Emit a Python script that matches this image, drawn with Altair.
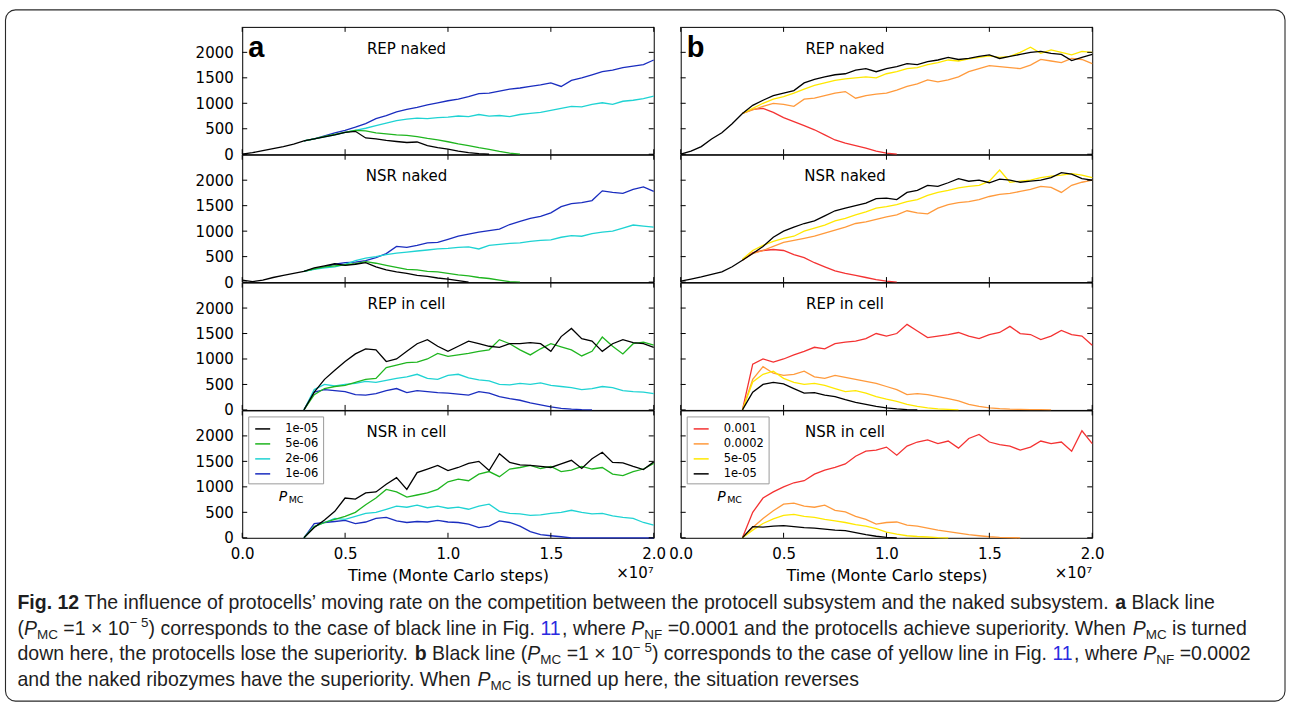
import altair as alt
import pandas as pd

STEP = 0.05
X_TICKS = [0.0, 0.5, 1.0, 1.5, 2.0]
Y_TICKS = [0, 500, 1000, 1500, 2000]
TITLES = ["REP naked", "NSR naked", "REP in cell", "NSR in cell"]

PMC_A = ["1e-05", "5e-06", "2e-06", "1e-06"]
COL_A = ["#000000", "#1fb51f", "#1fd3d3", "#1a2dbf"]
PMC_B = ["0.001", "0.0002", "5e-05", "1e-05"]
COL_B = ["#f43232", "#ff9a3c", "#ffe800", "#000000"]

# ---- panel a (start time in units of 1e7 steps) ----
A_REP_NAKED = {
    "1e-05": (0.0, [0, 30, 70, 110, 150, 200, 260, 300, 340, 380, 430, 450, 320, 300, 270, 250, 230, 240, 170, 130, 100, 60, 30, 10, 0]),
    "5e-06": (0.3, [260, 300, 350, 390, 430, 470, 460, 420, 400, 380, 370, 345, 310, 280, 245, 205, 170, 130, 95, 55, 20, 0]),
    "2e-06": (0.3, [260, 300, 340, 380, 430, 470, 510, 560, 610, 660, 690, 710, 700, 720, 730, 750, 740, 780, 750, 760, 740, 780, 800, 820, 860, 900, 940, 930, 980, 1010, 980, 1040, 1060, 1090, 1140]),
    "1e-06": (0.3, [260, 300, 360, 420, 470, 530, 600, 700, 760, 830, 880, 920, 970, 1010, 1050, 1080, 1130, 1190, 1200, 1240, 1280, 1300, 1330, 1360, 1400, 1330, 1450, 1500, 1560, 1620, 1650, 1700, 1730, 1760, 1850]),
}
A_NSR_NAKED = {
    "1e-05": (0.0, [40, 10, 40, 90, 130, 170, 210, 280, 320, 360, 330, 350, 380, 300, 240, 200, 170, 130, 110, 80, 60, 30, 0]),
    "5e-06": (0.3, [210, 260, 300, 320, 340, 360, 400, 370, 330, 290, 250, 240, 210, 200, 170, 140, 120, 90, 70, 40, 10, 0]),
    "2e-06": (0.3, [210, 250, 280, 300, 350, 420, 470, 500, 540, 570, 590, 610, 630, 650, 660, 680, 690, 650, 720, 740, 760, 770, 800, 820, 830, 880, 910, 900, 950, 980, 1000, 1060, 1120, 1100, 1080]),
    "1e-06": (0.3, [210, 260, 300, 350, 380, 390, 420, 480, 560, 700, 680, 720, 770, 780, 840, 900, 940, 980, 1010, 1040, 1130, 1190, 1250, 1290, 1360, 1480, 1540, 1560, 1600, 1790, 1760, 1740, 1820, 1870, 1780]),
}
A_REP_CELL = {
    "1e-05": (0.3, [0, 350, 600, 780, 950, 1100, 1200, 1180, 950, 1000, 1150, 1300, 1380, 1250, 1150, 1250, 1350, 1300, 1250, 1230, 1300, 1300, 1320, 1300, 1150, 1440, 1600, 1400, 1350, 1150, 1300, 1380, 1320, 1300, 1230]),
    "5e-06": (0.3, [0, 300, 420, 460, 480, 540, 600, 620, 830, 880, 930, 940, 1000, 1110, 1050, 1080, 1110, 1150, 1180, 1380, 1300, 1180, 1080, 1200, 1300, 1240, 1180, 1060, 1150, 1430, 1250, 1100, 1300, 1330, 1270]),
    "2e-06": (0.3, [0, 400, 500, 470, 500, 520, 560, 540, 580, 620, 650, 700, 620, 600, 680, 700, 630, 590, 570, 500, 490, 520, 500, 530, 480, 460, 440, 400, 420, 460, 440, 380, 360, 350, 320]),
    "1e-06": (0.3, [0, 350, 400, 380, 360, 300, 290, 320, 380, 420, 340, 380, 360, 340, 330, 310, 290, 360, 330, 260, 220, 190, 140, 100, 60, 30, 15, 5, 0]),
}
A_NSR_CELL = {
    "1e-05": (0.3, [0, 200, 350, 520, 780, 760, 880, 900, 1050, 1180, 950, 1280, 1350, 1420, 1320, 1380, 1460, 1500, 1320, 1650, 1480, 1430, 1420, 1400, 1380, 1450, 1520, 1360, 1550, 1680, 1480, 1470, 1400, 1340, 1490]),
    "5e-06": (0.3, [0, 220, 300, 360, 420, 500, 650, 780, 950, 900, 800, 840, 880, 950, 1100, 1150, 1120, 1250, 1300, 1200, 1350, 1380, 1420, 1360, 1400, 1300, 1330, 1400, 1350, 1380, 1250, 1220, 1300, 1350, 1460]),
    "2e-06": (0.3, [0, 220, 300, 380, 360, 420, 480, 500, 560, 620, 600, 640, 590, 620, 580, 600, 560, 620, 660, 520, 480, 470, 440, 450, 480, 500, 540, 500, 470, 480, 430, 400, 380, 300, 250]),
    "1e-06": (0.3, [0, 280, 300, 320, 340, 280, 310, 380, 400, 330, 300, 320, 310, 340, 310, 300, 270, 200, 230, 330, 300, 230, 120, 60, 40, 20, 0, 0, 0, 0, 0, 0, 0, 0, 0]),
}

# ---- panel b ----
B_REP_NAKED = {
    "1e-05": (0.0, [0, 60, 150, 300, 420, 600, 800, 960, 1060, 1150, 1200, 1250, 1400, 1470, 1520, 1560, 1580, 1650, 1680, 1620, 1680, 1720, 1780, 1760, 1820, 1850, 1900, 1860, 1880, 1920, 1950, 1880, 1920, 1960, 2000, 2020, 1980, 1960, 1840, 1900, 1960]),
    "5e-05": (0.3, [800, 900, 1000, 1080, 1130, 1200, 1280, 1350, 1400, 1450, 1480, 1500, 1520, 1500, 1580, 1620, 1680, 1700, 1760, 1800, 1850, 1830, 1870, 1900, 1930, 1900, 1920, 2000, 2100, 1980, 2050, 2000, 1950, 2020, 2000]),
    "0.0002": (0.3, [800, 870, 940, 1000, 980, 940, 1080, 1100, 1150, 1200, 1230, 1100, 1150, 1180, 1200, 1260, 1330, 1380, 1460, 1420, 1460, 1520, 1620, 1680, 1740, 1720, 1700, 1680, 1750, 1860, 1830, 1800, 1880, 1860, 1780]),
    "0.001": (0.3, [800, 880, 900, 820, 720, 640, 560, 480, 380, 280, 220, 170, 120, 60, 20, 0]),
}
B_NSR_NAKED = {
    "1e-05": (0.0, [20, 60, 100, 150, 200, 300, 430, 560, 700, 880, 1000, 1080, 1150, 1200, 1300, 1400, 1450, 1500, 1550, 1640, 1650, 1620, 1760, 1800, 1900, 1880, 1950, 2030, 1980, 2000, 1950, 2020, 2000, 1960, 1980, 2000, 2050, 2150, 2120, 2030, 2000]),
    "5e-05": (0.3, [450, 620, 720, 800, 860, 900, 1000, 1060, 1120, 1200, 1250, 1320, 1380, 1450, 1480, 1520, 1580, 1620, 1700, 1760, 1800, 1850, 1880, 1900, 1980, 2200, 1960, 1980, 2000, 2050, 2080, 2100, 2130, 2100, 2050]),
    "0.0002": (0.3, [430, 560, 620, 700, 780, 820, 860, 900, 960, 1020, 1080, 1150, 1180, 1230, 1280, 1320, 1400, 1360, 1340, 1450, 1520, 1560, 1580, 1620, 1680, 1720, 1740, 1780, 1820, 1880, 1860, 1760, 1900, 1960, 2000]),
    "0.001": (0.3, [430, 580, 620, 640, 620, 540, 480, 380, 300, 220, 170, 130, 90, 50, 20, 0]),
}
B_REP_CELL = {
    "0.001": (0.3, [0, 900, 1000, 940, 1000, 1080, 1150, 1230, 1200, 1300, 1330, 1350, 1400, 1500, 1450, 1500, 1680, 1550, 1420, 1450, 1480, 1520, 1450, 1400, 1480, 1520, 1640, 1500, 1480, 1380, 1450, 1560, 1480, 1450, 1270]),
    "0.0002": (0.3, [0, 600, 850, 720, 680, 700, 760, 650, 620, 680, 640, 600, 560, 520, 460, 400, 300, 320, 300, 260, 220, 180, 110, 70, 40, 25, 15, 10, 8, 5, 0]),
    "5e-05": (0.3, [0, 550, 700, 760, 620, 540, 500, 520, 480, 420, 360, 380, 330, 260, 210, 170, 110, 70, 40, 20, 10, 0]),
    "1e-05": (0.3, [0, 350, 500, 540, 510, 420, 330, 340, 290, 260, 200, 150, 110, 70, 40, 20, 5, 0]),
}
B_NSR_CELL = {
    "0.001": (0.3, [0, 500, 780, 900, 1000, 1080, 1120, 1250, 1330, 1380, 1450, 1600, 1700, 1720, 1780, 1620, 1800, 1880, 1920, 1850, 1900, 1760, 1950, 2030, 1880, 1830, 1800, 1720, 1780, 1900, 1850, 1880, 1700, 2100, 1850]),
    "0.0002": (0.3, [0, 200, 380, 530, 660, 680, 620, 600, 640, 540, 510, 420, 360, 270, 300, 310, 250, 230, 190, 150, 120, 90, 60, 40, 20, 10, 5, 0]),
    "5e-05": (0.3, [0, 150, 280, 370, 440, 460, 420, 400, 360, 330, 300, 260, 230, 180, 110, 70, 40, 25, 15, 5, 0]),
    "1e-05": (0.3, [0, 220, 210, 230, 240, 220, 200, 190, 170, 150, 140, 100, 60, 30, 10, 0]),
}

ORDER_A = ["1e-06", "2e-06", "5e-06", "1e-05"]
ORDER_B = ["0.001", "0.0002", "5e-05", "1e-05"]

# ---- caption ----
CAPTION = [
    [("Fig. 12", "b"), (" The influence of protocells\u2019 moving rate on the competition between the protocell subsystem and the naked subsystem. ", "r"), ("a", "b"), (" Black line", "r")],
    [("(", "r"), ("P", "i"), ("MC", "sub"), (" =1 \u00d7 10", "r"), ("\u2212 5", "sup"), (") corresponds to the case of black line in Fig. ", "r"), ("11", "l"), (", where ", "r"), ("P", "i"), ("NF", "sub"), (" =0.0001 and the protocells achieve superiority. When ", "r"), ("P", "i"), ("MC", "sub"), (" is turned", "r")],
    [("down here, the protocells lose the superiority. ", "r"), ("b", "b"), (" Black line (", "r"), ("P", "i"), ("MC", "sub"), (" =1 \u00d7 10", "r"), ("\u2212 5", "sup"), (") corresponds to the case of yellow line in Fig. ", "r"), ("11", "l"), (", where ", "r"), ("P", "i"), ("NF", "sub"), (" =0.0002", "r")],
    [("and the naked ribozymes have the superiority. When ", "r"), ("P", "i"), ("MC", "sub"), (" is turned up here, the situation reverses", "r")],
]

# ---------------- layout constants ----------------
W, H = 412, 127.5
TICK = 5
ONE = pd.DataFrame({"k": [0]})
CAP_FS, SUB_FS = 19.5, 13.5
CAP_X = -225
CAP_Y = [583, 609, 634, 660]

_REG = {" ": 278, "(": 333, ")": 333, ",": 278, ".": 278, "-": 333, "=": 584, "\u00d7": 584, "\u2212": 584, "\u2019": 222,
        "a": 556, "b": 556, "c": 500, "d": 556, "e": 556, "f": 278, "g": 556, "h": 556, "i": 222, "j": 222, "k": 500,
        "l": 222, "m": 833, "n": 556, "o": 556, "p": 556, "q": 556, "r": 333, "s": 500, "t": 278, "u": 556, "v": 500,
        "w": 722, "x": 500, "y": 500, "z": 500, "B": 667, "C": 722, "F": 611, "M": 833, "N": 722, "P": 667, "T": 611, "W": 944}
_BOLD = {" ": 278, ".": 278, "F": 611, "i": 278, "g": 611, "a": 556, "b": 611}


def text_w(s, style):
    size = SUB_FS if style in ("sub", "sup") else CAP_FS
    table = _BOLD if style == "b" else _REG
    return sum(table.get(ch, 556) for ch in s) / 1000.0 * size


def caption_layers():
    out = []
    for line, base in zip(CAPTION, CAP_Y):
        x = CAP_X
        for s, st in line:
            lead = len(s) - len(s.lstrip())
            xd = x + text_w(" " * lead, st)
            props = dict(font="Liberation Sans", fontSize=CAP_FS, align="left", baseline="alphabetic", color="#1e1e1e")
            y = base
            if st == "b":
                props["fontWeight"] = "bold"
            elif st == "i":
                props["fontStyle"] = "italic"
            elif st == "sub":
                props["fontSize"] = SUB_FS
                y = base + 4
            elif st == "sup":
                props["fontSize"] = SUB_FS
                y = base - 8
            elif st == "l":
                props["color"] = "#2a2ae0"
            out.append(alt.Chart(ONE).mark_text(text=s.strip(), **props).encode(x=alt.value(xd), y=alt.value(y)))
            x += text_w(s, st)
    return out


def make_panel(data, order, domain, colors, title, letter, left, bottom, top_left=False):
    xs = alt.Scale(domain=[0, 2], nice=False, zero=False)
    ys = alt.Scale(domain=[0, 2500], nice=False)
    if bottom:
        xaxis = alt.Axis(values=X_TICKS, format=".1f", labelFlush=False, labelPadding=9, labels=True,
                         title="Time (Monte Carlo steps)", titleFont="DejaVu Sans", titleFontSize=16,
                         titleFontWeight="normal", titleColor="black", titleY=42.3, titleBaseline="alphabetic")
    else:
        xaxis = None
    yaxis = alt.Axis(values=Y_TICKS, format="d", labelPadding=9, title=None, labels=True) if left else None
    legend = alt.Legend(orient="top-left", offset=6, title=None, symbolType="stroke", symbolSize=225,
                        symbolStrokeWidth=1.5, symbolOffset=2, labelFont="DejaVu Sans", labelFontSize=11.5,
                        labelColor="black", labelOffset=14, padding=4, rowPadding=1, strokeColor="#9a9a9a",
                        fillColor="white", labelLimit=200) if bottom else None
    layers = []
    if top_left:
        layers.append(alt.Chart(ONE).mark_rect(fillOpacity=0, stroke="#2a2a2a", strokeWidth=1.1, cornerRadius=10)
                      .encode(x=alt.value(-237), x2=alt.value(1044), y=alt.value(-17), y2=alt.value(675)))
    for name in order:
        start, vals = data[name]
        df = pd.DataFrame({"t": [round(start + i * STEP, 3) for i in range(len(vals))], "v": vals, "s": name})
        layers.append(alt.Chart(df).mark_line(strokeWidth=1.3).encode(
            x=alt.X("t:Q", scale=xs, axis=xaxis),
            y=alt.Y("v:Q", scale=ys, axis=yaxis),
            color=alt.Color("s:N", scale=alt.Scale(domain=domain, range=colors), legend=legend),
        ))
    yt = pd.DataFrame({"v": Y_TICKS})
    xt = pd.DataFrame({"t": X_TICKS})
    for a, b in [(0, TICK), (W - TICK, W)]:
        layers.append(alt.Chart(yt).mark_rule(color="black", strokeWidth=1).encode(
            y=alt.Y("v:Q", scale=ys, axis=yaxis), x=alt.value(a), x2=alt.value(b)))
    for a, b in [(H, H - TICK), (0, TICK)]:
        layers.append(alt.Chart(xt).mark_rule(color="black", strokeWidth=1).encode(
            x=alt.X("t:Q", scale=xs, axis=xaxis), y=alt.value(a), y2=alt.value(b)))
    layers.append(alt.Chart(ONE).mark_text(text=title, font="DejaVu Sans", fontSize=15, align="center",
                                           baseline="alphabetic", color="black")
                  .encode(x=alt.value(164.5), y=alt.value(26.7)))
    if letter:
        layers.append(alt.Chart(ONE).mark_text(text=letter, font="Liberation Sans", fontWeight="bold", fontSize=29,
                                               align="left", baseline="alphabetic", color="black")
                      .encode(x=alt.value(6), y=alt.value(30)))
    if bottom:
        layers.append(alt.Chart(ONE).mark_text(text="P", font="DejaVu Sans", fontStyle="italic", fontSize=14,
                                               align="left", baseline="alphabetic", color="black")
                      .encode(x=alt.value(36.5), y=alt.value(90.5)))
        layers.append(alt.Chart(ONE).mark_text(text="MC", font="DejaVu Sans", fontSize=9.5,
                                               align="left", baseline="alphabetic", color="black")
                      .encode(x=alt.value(46.5), y=alt.value(92.5)))
        layers.append(alt.Chart(ONE).mark_text(text="\u00d710\u2077", font="DejaVu Sans", fontSize=15,
                                               align="right", baseline="alphabetic", color="black")
                      .encode(x=alt.value(W), y=alt.value(H + 40)))
    if top_left:
        layers.extend(caption_layers())
    return alt.layer(*layers).properties(width=W, height=H)


A_DATA = [A_REP_NAKED, A_NSR_NAKED, A_REP_CELL, A_NSR_CELL]
B_DATA = [B_REP_NAKED, B_NSR_NAKED, B_REP_CELL, B_NSR_CELL]

panels = []
for r in range(4):
    panels.append(make_panel(A_DATA[r], ORDER_A, PMC_A, COL_A, TITLES[r], "a" if r == 0 else None,
                             True, r == 3, top_left=(r == 0)))
    panels.append(make_panel(B_DATA[r], ORDER_B, PMC_B, COL_B, TITLES[r], "b" if r == 0 else None,
                             False, r == 3))

chart = alt.concat(*panels, columns=2, spacing={"row": 0, "column": 27}, bounds="flush").resolve_scale(
    color="independent"
).properties(
    padding={"left": 3.5, "top": 7.5, "right": 2, "bottom": 2}, background="white"
).configure_view(stroke="black", strokeWidth=1).configure_axis(
    grid=False, domain=False, ticks=False, tickSize=0, labelFont="DejaVu Sans", labelFontSize=15, labelColor="black"
)

chart.save("out.html", embed_options={"renderer": "svg", "actions": False})
